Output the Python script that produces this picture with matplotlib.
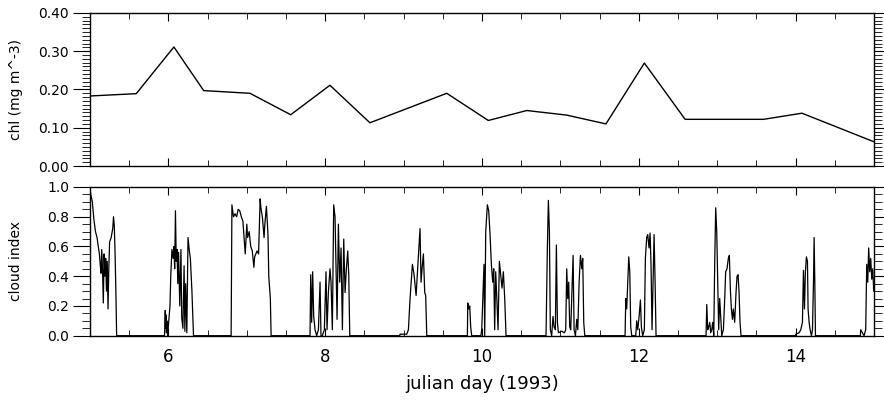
import numpy as np
import matplotlib
matplotlib.use('Agg')
import matplotlib.pyplot as plt
from matplotlib.ticker import MultipleLocator, FormatStrFormatter

# chlorophyll samples (julian day, mg m^-3)
chlDay = [5.00, 5.59, 6.07, 6.45, 7.04, 7.56, 8.06, 8.57, 9.55, 10.08, 10.57,
          11.08, 11.58, 12.07, 12.59, 13.08, 13.59, 14.08, 14.99]
chlVal = [0.183, 0.189, 0.311, 0.197, 0.190, 0.134, 0.211, 0.113, 0.190, 0.119, 0.145,
          0.133, 0.110, 0.269, 0.122, 0.122, 0.122, 0.138, 0.064]

# cloud index, one list per cloudy spell
burst1Day = [5.00, 5.01, 5.03, 5.05, 5.07, 5.09, 5.10, 5.12, 5.13, 5.14, 5.15, 5.16, 5.17, 5.18,
             5.19, 5.20, 5.21, 5.22, 5.23, 5.24, 5.25, 5.27, 5.29, 5.30, 5.31, 5.32, 5.33, 5.34]
burst1Val = [0.99, 0.95, 0.90, 0.78, 0.70, 0.66, 0.62, 0.55, 0.48, 0.42, 0.58, 0.44, 0.22, 0.55,
             0.40, 0.52, 0.30, 0.50, 0.18, 0.45, 0.63, 0.66, 0.72, 0.80, 0.74, 0.55, 0.30, 0.00]

burst2Day = [5.95, 5.96, 5.965, 5.97, 5.975, 5.98, 5.99, 6.02, 6.03, 6.045, 6.06, 6.07, 6.08,
             6.09, 6.10, 6.11, 6.12, 6.13, 6.145, 6.16, 6.17, 6.185, 6.20, 6.21, 6.22, 6.235,
             6.25, 6.265, 6.28, 6.30, 6.32]
burst2Val = [0.00, 0.17, 0.05, 0.14, 0.02, 0.10, 0.00, 0.20, 0.40, 0.58, 0.52, 0.60, 0.45,
             0.84, 0.50, 0.58, 0.35, 0.56, 0.20, 0.58, 0.12, 0.05, 0.47, 0.03, 0.35, 0.02,
             0.66, 0.58, 0.52, 0.30, 0.00]

burst3Day = [6.80, 6.81, 6.83, 6.85, 6.87, 6.89, 6.91, 6.93, 6.95, 6.98, 7.00, 7.01, 7.03,
             7.05, 7.07, 7.09, 7.10, 7.13, 7.15, 7.17, 7.18, 7.20, 7.22, 7.23, 7.25, 7.27,
             7.28, 7.30, 7.31]
burst3Val = [0.00, 0.88, 0.80, 0.82, 0.80, 0.85, 0.84, 0.80, 0.77, 0.55, 0.75, 0.66, 0.70,
             0.60, 0.57, 0.46, 0.53, 0.57, 0.55, 0.92, 0.86, 0.79, 0.66, 0.75, 0.87, 0.68,
             0.40, 0.25, 0.00]

burst4Day = [7.806, 7.815, 7.827, 7.840, 7.853, 7.870, 7.891, 7.913, 7.934, 7.946, 7.963,
             7.989, 8.010, 8.023, 8.040, 8.061, 8.074, 8.091, 8.108, 8.125, 8.138, 8.151,
             8.168, 8.185, 8.202, 8.219, 8.236, 8.253, 8.270, 8.287, 8.300, 8.313]
burst4Val = [0.00, 0.41, 0.09, 0.43, 0.13, 0.04, 0.00, 0.04, 0.36, 0.00, 0.00,
             0.04, 0.43, 0.04, 0.29, 0.45, 0.36, 0.04, 0.88, 0.80, 0.45, 0.11,
             0.75, 0.36, 0.59, 0.04, 0.65, 0.29, 0.45, 0.57, 0.41, 0.00]

burst5Day = [8.950, 8.954, 8.997, 9.039, 9.061, 9.082, 9.112, 9.133, 9.159, 9.175, 9.192,
             9.209, 9.222, 9.235, 9.252, 9.269, 9.281, 9.295]
burst5Val = [0.00, 0.01, 0.01, 0.01, 0.04, 0.25, 0.48, 0.41, 0.27, 0.41, 0.57,
             0.72, 0.36, 0.45, 0.55, 0.29, 0.27, 0.00]

burst6Day = [9.813, 9.818, 9.830, 9.843, 9.855, 9.868, 9.985, 9.996, 10.008, 10.025, 10.034,
             10.047, 10.068, 10.085, 10.102, 10.119, 10.136, 10.149, 10.161, 10.174, 10.187,
             10.204, 10.221, 10.238, 10.255, 10.272, 10.289, 10.306]
burst6Val = [0.00, 0.22, 0.18, 0.20, 0.06, 0.00, 0.00, 0.04, 0.22, 0.48, 0.00,
             0.70, 0.88, 0.84, 0.68, 0.48, 0.36, 0.45, 0.04, 0.43, 0.27,
             0.04, 0.50, 0.41, 0.32, 0.43, 0.25, 0.00]

burst7Day = [10.816, 10.833, 10.846, 10.859, 10.871, 10.888, 10.905, 10.918, 10.935, 10.948,
             10.961, 10.974, 11.016, 11.050, 11.067, 11.080, 11.093, 11.105, 11.118, 11.131,
             11.144, 11.161, 11.174, 11.191, 11.208, 11.221, 11.238, 11.255, 11.272, 11.284,
             11.297, 11.310]
burst7Val = [0.00, 0.59, 0.91, 0.70, 0.04, 0.00, 0.13, 0.06, 0.04, 0.61,
             0.09, 0.02, 0.03, 0.02, 0.04, 0.45, 0.25, 0.36, 0.06, 0.04,
             0.25, 0.54, 0.04, 0.00, 0.11, 0.04, 0.36, 0.54, 0.45, 0.52,
             0.09, 0.00]

burst8Day = [11.824, 11.833, 11.845, 11.858, 11.871, 11.884, 11.896, 11.909, 11.960, 11.973,
             11.986, 12.003, 12.020, 12.032, 12.049, 12.070, 12.083, 12.100, 12.113, 12.130,
             12.143, 12.155, 12.168, 12.181, 12.194, 12.207, 12.219]
burst8Val = [0.00, 0.25, 0.18, 0.36, 0.53, 0.43, 0.06, 0.00, 0.00, 0.10,
             0.04, 0.13, 0.24, 0.06, 0.00, 0.04, 0.52, 0.66, 0.68, 0.59,
             0.69, 0.48, 0.04, 0.36, 0.68, 0.36, 0.00]

burst9Day = [12.857, 12.866, 12.878, 12.891, 12.904, 12.916, 12.929, 12.942, 12.955, 12.967,
             12.980, 12.993, 13.006, 13.018, 13.031, 13.044, 13.057, 13.078, 13.095, 13.107,
             13.124, 13.141, 13.154, 13.167, 13.180, 13.193, 13.205, 13.222, 13.239, 13.252,
             13.265, 13.278, 13.290, 13.303]
burst9Val = [0.00, 0.21, 0.04, 0.06, 0.09, 0.02, 0.04, 0.09, 0.00, 0.48,
             0.86, 0.70, 0.36, 0.04, 0.25, 0.13, 0.00, 0.04, 0.25, 0.43,
             0.45, 0.52, 0.54, 0.31, 0.18, 0.11, 0.18, 0.09, 0.29, 0.40,
             0.41, 0.29, 0.09, 0.00]

burst10Day = [13.995, 14.001, 14.044, 14.065, 14.086, 14.099, 14.112, 14.124, 14.137, 14.150,
              14.158, 14.171, 14.184, 14.201, 14.214, 14.227, 14.235, 14.244, 14.252]
burst10Val = [0.00, 0.01, 0.02, 0.04, 0.09, 0.44, 0.18, 0.43, 0.53, 0.50,
              0.18, 0.09, 0.04, 0.00, 0.04, 0.36, 0.66, 0.36, 0.00]

burst11Day = [14.825, 14.829, 14.851, 14.872, 14.893, 14.906, 14.919, 14.931, 14.944, 14.957,
              14.970, 14.983, 14.995]
burst11Val = [0.00, 0.04, 0.02, 0.00, 0.04, 0.48, 0.36, 0.59, 0.43, 0.52,
              0.38, 0.45, 0.30]

cloudDay = np.concatenate([burst1Day, burst2Day, burst3Day, burst4Day, burst5Day, burst6Day,
                           burst7Day, burst8Day, burst9Day, burst10Day, burst11Day])
cloudVal = np.concatenate([burst1Val, burst2Val, burst3Val, burst4Val, burst5Val, burst6Val,
                           burst7Val, burst8Val, burst9Val, burst10Val, burst11Val])

xTicks = [6, 8, 10, 12, 14]

# Setting up the figure with two stacked panels
plt.rcParams['font.family'] = 'DejaVu Sans'
fig = plt.figure(figsize=(8.84, 4.03), dpi=100)
axTop = fig.add_axes([0.1018, 0.588, 0.887, 0.380])
axBot = fig.add_axes([0.1018, 0.167, 0.887, 0.369])

def styleAxis(ax, yMajor, yMinor):
    ax.set_xlim(5, 15)
    ax.xaxis.set_major_locator(MultipleLocator(2))
    ax.xaxis.set_minor_locator(MultipleLocator(0.5))
    ax.yaxis.set_major_locator(MultipleLocator(yMajor))
    ax.yaxis.set_minor_locator(MultipleLocator(yMinor))
    ax.tick_params(axis='x', which='both', direction='in', top=True, bottom=True)
    ax.tick_params(axis='x', which='major', length=6, width=0.8, labelsize=12, pad=9)
    ax.tick_params(axis='x', which='minor', length=4, width=0.6)
    ax.tick_params(axis='y', which='both', direction='out', left=True, right=True)
    ax.tick_params(axis='y', which='major', length=12, width=0.8, labelsize=10, pad=3)
    ax.tick_params(axis='y', which='minor', length=6, width=0.6)
    for s in ax.spines.values():
        s.set_linewidth(1.0)

# Top panel: chlorophyll
axTop.plot(chlDay, chlVal, color='black', lw=1.0)
styleAxis(axTop, 0.1, 0.01)
axTop.set_ylim(0, 0.40)
axTop.yaxis.set_major_formatter(FormatStrFormatter('%.2f'))
axTop.tick_params(axis='x', labelbottom=False)
axTop.set_ylabel('chl (mg m^-3)', fontsize=10)
axTop.yaxis.set_label_coords(-0.085, 0.5)

# Bottom panel: cloud index
axBot.plot(cloudDay, cloudVal, color='black', lw=0.9)
styleAxis(axBot, 0.2, 0.05)
axBot.set_ylim(0, 1.0)
axBot.yaxis.set_major_formatter(FormatStrFormatter('%.1f'))
axBot.set_xticks(xTicks)
axBot.set_xticklabels([str(t) for t in xTicks])
axBot.set_ylabel('cloud index', fontsize=10)
axBot.yaxis.set_label_coords(-0.085, 0.5)
axBot.set_xlabel('julian day (1993)', fontsize=13, labelpad=6)

plt.savefig('out.png', dpi=100)
plt.close()
